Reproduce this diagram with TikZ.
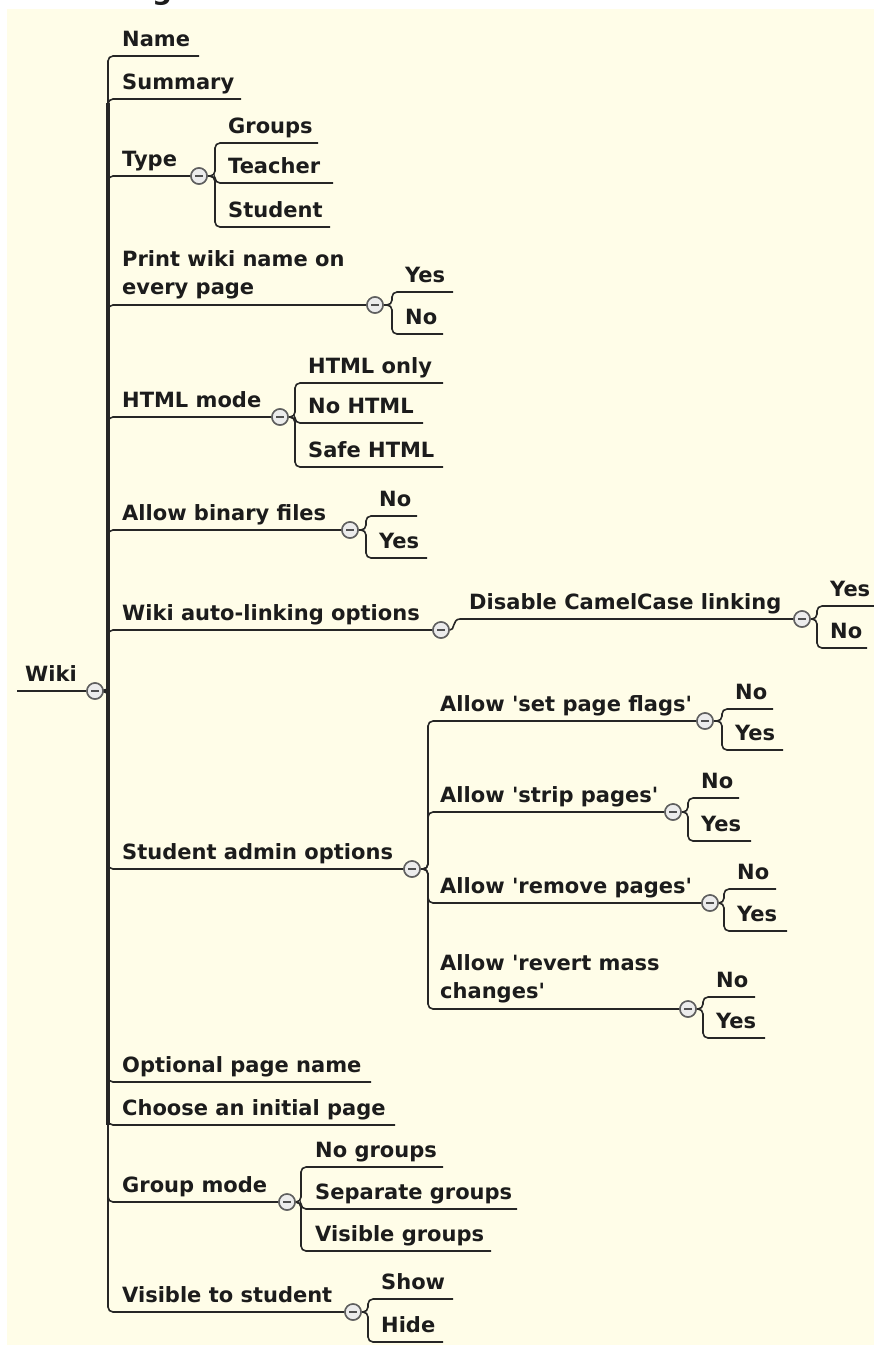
\documentclass[tikz,border=0pt]{standalone}
\usepackage{fontspec}
\setmainfont{DejaVu Sans}[Ligatures=TeXOff]
\usetikzlibrary{calc}
\definecolor{paper}{RGB}{255,253,232}
\definecolor{txt}{RGB}{28,28,28}
\definecolor{lin}{RGB}{38,38,38}
\definecolor{tgb}{RGB}{95,95,95}
\definecolor{tgf}{RGB}{236,236,236}
\definecolor{tgm}{RGB}{80,80,80}
\newcommand\mmfont{\fontsize{21}{28}\selectfont\bfseries}
\tikzset{
  lbl/.style={anchor=base west, inner sep=0pt, text=txt, font=\mmfont},
  ln/.style={draw=lin, line width=1.6pt, rounded corners=5pt},
  trunk/.style={draw=lin, line width=3.4pt},
  tog/.style={circle, draw=tgb, fill=tgf, line width=1.5pt, minimum size=16pt,
    inner sep=0pt, path picture={
      \draw[line width=2.4pt, draw=tgm]
        ([xshift=-4pt]path picture bounding box.center) --
        ([xshift=4pt]path picture bounding box.center);}},
}
\begin{document}
\begin{tikzpicture}[x=1pt, y=-1pt]
\useasboundingbox (0,0) rectangle (874,1345);
\fill[white] (0,0) rectangle (874,1345);
\fill[paper] (7,9) rectangle (874,1345);
% tail of the heading above the map
\begin{scope}
  \clip (0,0) rectangle (874,9);
  \node[anchor=base west, inner sep=0pt, text=txt,
        font=\fontsize{28}{30}\selectfont\bfseries] (ttl) at (152,-1) {g};
\end{scope}

% ---------- root ----------
\coordinate (wiki-s) at (17,691);
\node[tog] (wiki-c) at (95,691) {};
\node[lbl] (wiki) at (25,681) {Wiki};
\draw[ln] (wiki-s) -- (wiki-c.west);
\coordinate (wiki-v) at (108,691);

% ---------- first level ----------
\coordinate (name-e) at (199,56);
\node[lbl] (name) at (122,46) {Name};
\coordinate (summary-e) at (241,99);
\node[lbl] (summary) at (122,89) {Summary};
\node[tog] (type-c) at (199,176) {};
\node[lbl] (type) at (122,166) {Type};
\node[tog] (print-c) at (375,305) {};
\node[lbl] (print) at (122,294) {\begin{tabular}[b]{@{}l@{}}Print wiki name on\\every page\end{tabular}};
\node[tog] (html-c) at (280,417) {};
\node[lbl] (html) at (122,407) {HTML mode};
\node[tog] (bin-c) at (350,530) {};
\node[lbl] (bin) at (122,520) {Allow binary files};
\node[tog] (auto-c) at (441,630) {};
\node[lbl] (auto) at (122,620) {Wiki auto-linking options};
\node[tog] (adm-c) at (412,869) {};
\node[lbl] (adm) at (122,859) {Student admin options};
\coordinate (opt-e) at (371,1082);
\node[lbl] (opt) at (122,1072) {Optional page name};
\coordinate (init-e) at (395,1125);
\node[lbl] (init) at (122,1115) {Choose an initial page};
\node[tog] (grp-c) at (287,1202) {};
\node[lbl] (grp) at (122,1192) {Group mode};
\node[tog] (vis-c) at (353,1312) {};
\node[lbl] (vis) at (122,1302) {Visible to student};

\draw[trunk] (wiki-v |- summary-e) ++(0,4) -- (wiki-v |- init-e) ++(0,-4);
\foreach \t in {name-e, summary-e, opt-e, init-e}
  \draw[ln] (wiki-c.east) -- (wiki-v) |- (\t);
\foreach \t in {type-c, print-c, html-c, bin-c, auto-c, adm-c, grp-c, vis-c}
  \draw[ln] (wiki-c.east) -- (wiki-v) |- (\t.west);

% ---------- Type ----------
\coordinate (type-v) at (215,176);
\coordinate (groups-e) at (318,143);
\node[lbl] (groups) at (228,133) {Groups};
\coordinate (teacher-e) at (333,183);
\node[lbl] (teacher) at (228,173) {Teacher};
\coordinate (student-e) at (330,227);
\node[lbl] (student) at (228,217) {Student};
\foreach \t in {groups-e, teacher-e, student-e}
  \draw[ln] (type-c.east) -- (type-v) |- (\t);

% ---------- Print wiki name ----------
\coordinate (print-v) at (392,305);
\coordinate (pyes-e) at (453,292);
\node[lbl] (pyes) at (405,282) {Yes};
\coordinate (pno-e) at (443,334);
\node[lbl] (pno) at (405,324) {No};
\foreach \t in {pyes-e, pno-e}
  \draw[ln] (print-c.east) -- (print-v) |- (\t);

% ---------- HTML mode ----------
\coordinate (html-v) at (295,417);
\coordinate (honly-e) at (443,383);
\node[lbl] (honly) at (308,373) {HTML only};
\coordinate (hno-e) at (423,423);
\node[lbl] (hno) at (308,413) {No HTML};
\coordinate (hsafe-e) at (443,467);
\node[lbl] (hsafe) at (308,457) {Safe HTML};
\foreach \t in {honly-e, hno-e, hsafe-e}
  \draw[ln] (html-c.east) -- (html-v) |- (\t);

% ---------- Binary files ----------
\coordinate (bin-v) at (366,530);
\coordinate (bno-e) at (417,516);
\node[lbl] (bno) at (379,506) {No};
\coordinate (byes-e) at (427,558);
\node[lbl] (byes) at (379,548) {Yes};
\foreach \t in {bno-e, byes-e}
  \draw[ln] (bin-c.east) -- (bin-v) |- (\t);

% ---------- Auto-linking ----------
\node[tog] (camel-c) at (802,619) {};
\node[lbl] (camel) at (469,609) {Disable CamelCase linking};
\draw[ln, rounded corners=0pt] (auto-c.east) .. controls (455,631) and (452,619) .. (460,619) -- (camel-c.west);
\coordinate (camel-v) at (817,619);
\coordinate (cyes-e) at (874,606);
\node[lbl] (cyes) at (830,596) {Yes};
\coordinate (cno-e) at (867,648);
\node[lbl] (cno) at (830,638) {No};
\foreach \t in {cyes-e, cno-e}
  \draw[ln] (camel-c.east) -- (camel-v) |- (\t);

% ---------- Student admin ----------
\coordinate (adm-v) at (428,869);
\node[tog] (flag-c) at (705,721) {};
\node[lbl] (flag) at (440,711) {Allow 'set page flags'};
\node[tog] (strip-c) at (673,812) {};
\node[lbl] (strip) at (440,802) {Allow 'strip pages'};
\node[tog] (rem-c) at (710,903) {};
\node[lbl] (rem) at (440,893) {Allow 'remove pages'};
\node[tog] (rev-c) at (688,1009) {};
\node[lbl] (rev) at (440,998) {\begin{tabular}[b]{@{}l@{}}Allow 'revert mass\\changes'\end{tabular}};
\foreach \t in {flag-c, strip-c, rem-c, rev-c}
  \draw[ln] (adm-c.east) -- (adm-v) |- (\t.west);

\coordinate (flag-v) at (722,721);
\coordinate (fno-e) at (773,709);
\node[lbl] (fno) at (735,699) {No};
\coordinate (fyes-e) at (783,750);
\node[lbl] (fyes) at (735,740) {Yes};
\foreach \t in {fno-e, fyes-e}
  \draw[ln] (flag-c.east) -- (flag-v) |- (\t);

\coordinate (strip-v) at (688,812);
\coordinate (sno-e) at (739,798);
\node[lbl] (sno) at (701,788) {No};
\coordinate (syes-e) at (751,841);
\node[lbl] (syes) at (701,831) {Yes};
\foreach \t in {sno-e, syes-e}
  \draw[ln] (strip-c.east) -- (strip-v) |- (\t);

\coordinate (rem-v) at (724,903);
\coordinate (rno-e) at (776,889);
\node[lbl] (rno) at (737,879) {No};
\coordinate (ryes-e) at (787,931);
\node[lbl] (ryes) at (737,921) {Yes};
\foreach \t in {rno-e, ryes-e}
  \draw[ln] (rem-c.east) -- (rem-v) |- (\t);

\coordinate (rev-v) at (703,1009);
\coordinate (vno-e) at (755,997);
\node[lbl] (vno) at (716,987) {No};
\coordinate (vyes-e) at (765,1038);
\node[lbl] (vyes) at (716,1028) {Yes};
\foreach \t in {vno-e, vyes-e}
  \draw[ln] (rev-c.east) -- (rev-v) |- (\t);

% ---------- Group mode ----------
\coordinate (grp-v) at (301,1202);
\coordinate (gno-e) at (443,1167);
\node[lbl] (gno) at (315,1157) {No groups};
\coordinate (gsep-e) at (517,1209);
\node[lbl] (gsep) at (315,1199) {Separate groups};
\coordinate (gvis-e) at (491,1251);
\node[lbl] (gvis) at (315,1241) {Visible groups};
\foreach \t in {gno-e, gsep-e, gvis-e}
  \draw[ln] (grp-c.east) -- (grp-v) |- (\t);

% ---------- Visible to student ----------
\coordinate (vis-v) at (368,1312);
\coordinate (show-e) at (453,1299);
\node[lbl] (show) at (381,1289) {Show};
\coordinate (hide-e) at (443,1342);
\node[lbl] (hide) at (381,1332) {Hide};
\foreach \t in {show-e, hide-e}
  \draw[ln] (vis-c.east) -- (vis-v) |- (\t);

% toggles drawn last so the connectors pass beneath them
\foreach \e in {wiki-c, type-c, print-c, html-c, bin-c, auto-c, adm-c, grp-c, vis-c,
                camel-c, flag-c, strip-c, rem-c, rev-c}
  \node[tog] at (\e) {};
\end{tikzpicture}
\end{document}
